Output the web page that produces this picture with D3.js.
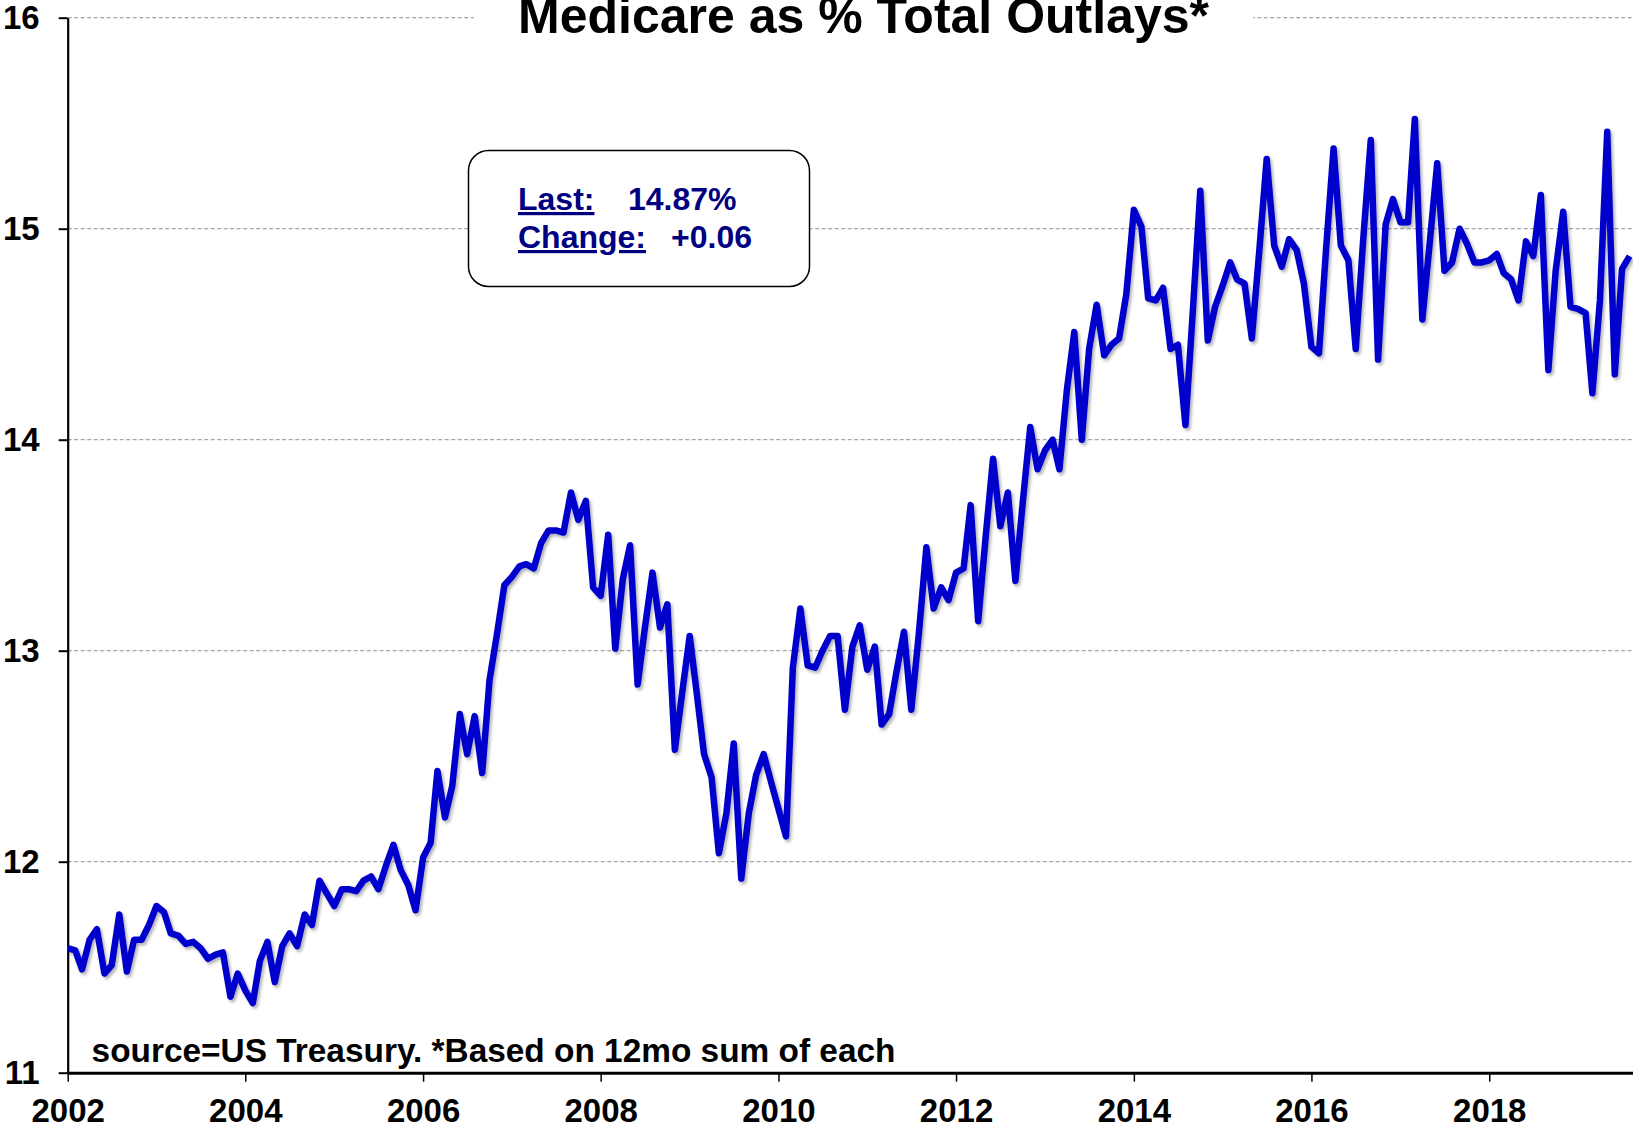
<!DOCTYPE html>
<html>
<head>
<meta charset="utf-8">
<script src="https://cdn.jsdelivr.net/npm/d3@7"></script>
<style>
    body { margin: 0; background: #fff; }
    text { font-family: "Liberation Sans", Arial, sans-serif; font-weight: bold; }
</style>
</head>
<body>
<div class="canvas"></div>
<script>
// monthly series, Jan 2002 .. Aug 2019
const startYear = 2002;
const values = [
    11.59, 11.58, 11.49, 11.63, 11.68, 11.47, 11.51, 11.75, 11.48, 11.63, 11.63, 11.70,
    11.79, 11.76, 11.66, 11.65, 11.61, 11.62, 11.59, 11.54, 11.56, 11.57, 11.36, 11.47,
    11.39, 11.33, 11.53, 11.62, 11.43, 11.60, 11.66, 11.60, 11.75, 11.70, 11.91, 11.85,
    11.79, 11.87, 11.87, 11.86, 11.91, 11.93, 11.87, 11.98, 12.08, 11.96, 11.89, 11.77,
    12.02, 12.09, 12.43, 12.21, 12.36, 12.70, 12.51, 12.69, 12.42, 12.86, 13.08, 13.31,
    13.35, 13.40, 13.41, 13.39, 13.51, 13.57, 13.57, 13.56, 13.75, 13.62, 13.71, 13.30,
    13.26, 13.55, 13.01, 13.34, 13.50, 12.84, 13.11, 13.37, 13.11, 13.22, 12.53, 12.80,
    13.07, 12.78, 12.51, 12.40, 12.04, 12.23, 12.56, 11.92, 12.23, 12.41, 12.51, 12.38,
    12.25, 12.12, 12.92, 13.20, 12.93, 12.92, 13.00, 13.07, 13.07, 12.72, 13.02, 13.12,
    12.91, 13.02, 12.65, 12.70, 12.90, 13.09, 12.72, 13.08, 13.49, 13.20, 13.30, 13.24,
    13.37, 13.39, 13.69, 13.14, 13.53, 13.91, 13.59, 13.75, 13.33, 13.70, 14.06, 13.86,
    13.95, 14.00, 13.86, 14.24, 14.51, 14.00, 14.43, 14.64, 14.40, 14.45, 14.48, 14.69,
    15.09, 15.01, 14.67, 14.66, 14.72, 14.43, 14.45, 14.07, 14.62, 15.18, 14.47, 14.63,
    14.73, 14.84, 14.76, 14.74, 14.48, 14.90, 15.33, 14.92, 14.82, 14.95, 14.90, 14.74,
    14.44, 14.41, 14.90, 15.38, 14.92, 14.85, 14.43, 14.95, 15.42, 14.38, 15.02, 15.14,
    15.03, 15.03, 15.52, 14.57, 14.93, 15.31, 14.80, 14.84, 15.00, 14.93, 14.84, 14.84,
    14.85, 14.88, 14.79, 14.76, 14.66, 14.94, 14.87, 15.16, 14.33, 14.80, 15.08, 14.63,
    14.62, 14.60, 14.22, 14.66, 15.46, 14.31, 14.81, 14.87
];
const yTicks = [11, 12, 13, 14, 15, 16];
const xTickYears = [2002, 2004, 2006, 2008, 2010, 2012, 2014, 2016, 2018];
const titleText = "Medicare as % Total Outlays*";
const sourceText = "source=US Treasury. *Based on 12mo sum of each";
const lastValue = "14.87%";
const changeValue = "+0.06";

let width = 1633, height = 1131;
let plot = { left: 67.7, right: 1633, top: 17.7, bottom: 1072.7 };
let lineColor = "rgb(0, 0, 204)";
let navy = "#000080";

const data = values.map((v, i) => ({ date: new Date(startYear, i, 1), value: v }));

const svg = d3
    .select(".canvas")
    .append("svg")
    .attr("width", width)
    .attr("height", height);

const defs = svg.append("defs");
defs.append("filter")
    .attr("id", "shadow")
    .attr("x", "-5%").attr("y", "-5%")
    .attr("width", "110%").attr("height", "110%")
    .append("feDropShadow")
    .attr("dx", 2).attr("dy", 2.5)
    .attr("stdDeviation", 1.6)
    .attr("flood-color", "#000")
    .attr("flood-opacity", 0.3);

const x = d3.scaleTime()
    .domain([new Date(2002, 0, 1), new Date(2019, 7, 15)])
    .range([plot.left, plot.right]);
const y = d3.scaleLinear().domain([11, 16]).range([plot.bottom, plot.top]);

// gridlines
svg.append("g")
    .selectAll("line")
    .data(yTicks.filter((d) => d > 11))
    .enter()
    .append("line")
    .attr("x1", plot.left)
    .attr("x2", plot.right)
    .attr("y1", (d) => y(d))
    .attr("y2", (d) => y(d))
    .attr("stroke", "#a6a6a6")
    .attr("stroke-width", 1.3)
    .attr("stroke-dasharray", "4,2.5");

// axes
const yAxis = d3.axisLeft(y)
    .tickValues(yTicks)
    .tickSize(9)
    .tickSizeOuter(0)
    .tickPadding(19)
    .tickFormat(d3.format("d"));

const xAxis = d3.axisBottom(x)
    .tickValues(xTickYears.map((yr) => new Date(yr, 0, 1)))
    .tickSize(9)
    .tickSizeOuter(0)
    .tickPadding(17)
    .tickFormat(d3.timeFormat("%Y"));

const yAxisGroup = svg.append("g")
    .attr("transform", `translate(${plot.left},0)`)
    .call(yAxis);
yAxisGroup.select(".domain").attr("stroke", "#000").attr("stroke-width", 2.2);
yAxisGroup.selectAll(".tick line").attr("stroke", "#000").attr("stroke-width", 2);
yAxisGroup.selectAll("text")
    .attr("font-size", 33)
    .attr("font-family", "Liberation Sans, Arial, sans-serif")
    .attr("font-weight", "bold")
    .attr("fill", "#000");

const xAxisGroup = svg.append("g")
    .attr("transform", `translate(0,${plot.bottom})`)
    .call(xAxis);
xAxisGroup.select(".domain").attr("stroke", "#000").attr("stroke-width", 3);
xAxisGroup.selectAll(".tick line").attr("stroke", "#000").attr("stroke-width", 1.5);
xAxisGroup.selectAll("text")
    .attr("font-size", 33)
    .attr("font-family", "Liberation Sans, Arial, sans-serif")
    .attr("font-weight", "bold")
    .attr("fill", "#000");

// series line
const lineGen = d3.line()
    .x((d) => x(d.date))
    .y((d) => y(d.value));

svg.append("path")
    .datum(data)
    .attr("d", lineGen)
    .attr("fill", "none")
    .attr("stroke", lineColor)
    .attr("stroke-width", 6.5)
    .attr("stroke-linejoin", "round")
    .attr("filter", "url(#shadow)");

// title sits on a white patch over the top gridline
svg.append("rect")
    .attr("x", 474).attr("y", 0)
    .attr("width", 779).attr("height", 30)
    .attr("fill", "#fff");
svg.append("text")
    .attr("x", 863.5)
    .attr("y", 33)
    .attr("text-anchor", "middle")
    .attr("font-size", 50)
    .attr("fill", "#000")
    .text(titleText);

// last / change box
const box = svg.append("g");
box.append("rect")
    .attr("x", 468.5).attr("y", 150.5)
    .attr("width", 341).attr("height", 136)
    .attr("rx", 20).attr("ry", 20)
    .attr("fill", "#fff")
    .attr("stroke", "#000")
    .attr("stroke-width", 1.5);

const boxRows = [
    { label: "Last:", value: lastValue, y: 210, vx: 628 },
    { label: "Change:", value: changeValue, y: 248, vx: 671 },
];
boxRows.forEach((r) => {
    box.append("text")
        .attr("x", 518).attr("y", r.y)
        .attr("font-size", 32)
        .attr("fill", navy)
        .style("text-decoration", "underline")
        .text(r.label);
    box.append("text")
        .attr("x", r.vx).attr("y", r.y)
        .attr("font-size", 32)
        .attr("fill", navy)
        .text(r.value);
});

// source note
svg.append("text")
    .attr("x", 91.6)
    .attr("y", 1062)
    .attr("font-size", 33.4)
    .attr("fill", "#000")
    .text(sourceText);
</script>
</body>
</html>
